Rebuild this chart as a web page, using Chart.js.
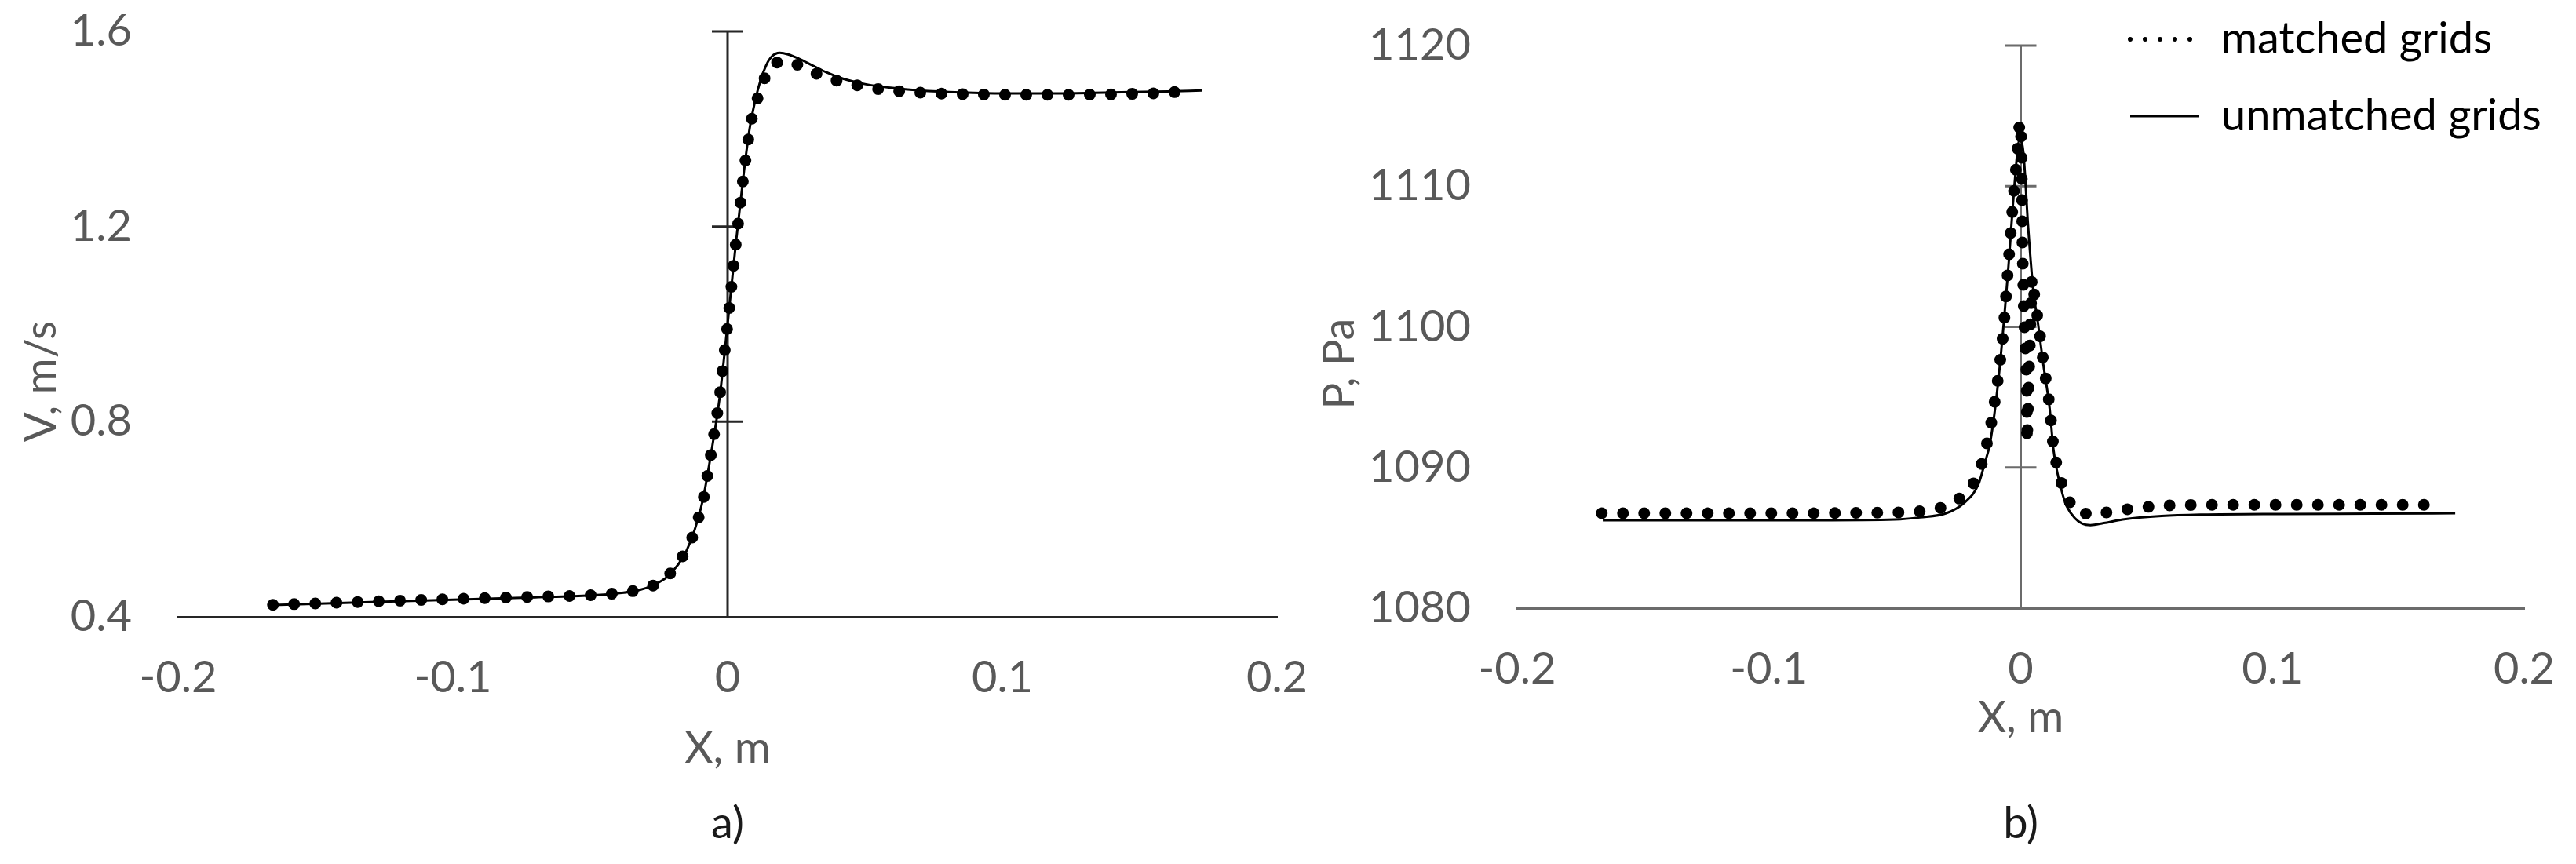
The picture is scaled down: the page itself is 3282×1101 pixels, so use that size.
<!DOCTYPE html>
<html>
<head>
<meta charset="utf-8">
<title>V and P along X</title>
<script src="https://cdn.jsdelivr.net/npm/chart.js@4.4.1/dist/chart.umd.min.js"></script>
<style>
  html, body { margin: 0; padding: 0; background: #fff; }
  #wrap { position: relative; width: 3282px; height: 1101px; overflow: hidden; background: #fff; }
  #chartA { position: absolute; left: 0; top: 0; }
  #chartB { position: absolute; left: 1650px; top: 0; }
</style>
</head>
<body>
<div id="wrap">
  <canvas id="chartA" width="1700" height="1101"></canvas>
  <canvas id="chartB" width="1632" height="1101"></canvas>
</div>
<script>
// --- DATA ---
const xTicks = [-0.2, -0.1, 0, 0.1, 0.2];
const vTicks = [0.4, 0.8, 1.2, 1.6];
const pTicks = [1080, 1090, 1100, 1110, 1120];

// a) velocity, matched grids
const aMatchedX = [-0.1655, -0.109, -0.0768, -0.0528, -0.0447, -0.0367, -0.0287, -0.022, -0.0171, -0.0132,
  -0.0107, -0.0087, -0.006, -0.003, 0, 0.003, 0.006, 0.0083, 0.0104, 0.013, 0.0163, 0.020, 0.0242,
  0.0315, 0.0391, 0.0468, 0.0547, 0.065, 0.08, 0.1, 0.12, 0.14, 0.155, 0.167];
const aMatchedV = [0.4246, 0.435, 0.440, 0.4434, 0.446, 0.450, 0.459, 0.481, 0.516, 0.557,
  0.600, 0.644, 0.735, 0.845, 1.0, 1.165, 1.315, 1.41, 1.454, 1.499, 1.533, 1.540, 1.535,
  1.515, 1.500, 1.490, 1.482, 1.476, 1.472, 1.470, 1.470, 1.471, 1.473, 1.477];

// a) velocity, unmatched grids
const aUnmatchedX = [-0.1655, -0.13, -0.1, -0.07, -0.05, -0.04, -0.032, -0.027, -0.022, -0.018, -0.015,
  -0.012, -0.009, -0.006, -0.003, 0, 0.003, 0.006, 0.008, 0.010, 0.012, 0.014, 0.016, 0.019, 0.022,
  0.026, 0.031, 0.036, 0.042, 0.05, 0.06, 0.07, 0.085, 0.1, 0.12, 0.14, 0.16, 0.1726];
const aUnmatchedV = [0.424, 0.430, 0.435, 0.440, 0.444, 0.448, 0.455, 0.465, 0.482, 0.507, 0.535,
  0.578, 0.640, 0.735, 0.845, 1.0, 1.165, 1.315, 1.400, 1.457, 1.500, 1.530, 1.548, 1.556, 1.553,
  1.544, 1.530, 1.516, 1.503, 1.492, 1.484, 1.479, 1.475, 1.473, 1.473, 1.475, 1.477, 1.479];

// b) pressure, matched grids
const bMatchedX = [-0.1664, -0.12, -0.08, -0.05, -0.0383, -0.030, -0.0224, -0.0178, -0.0146, -0.0112,
  -0.0087, -0.0069, -0.005, -0.0031, -0.0016, -0.0004, 0.0003, 0.0007, 0.0013, 0.0024, 0.0025,
  0.0044, 0.0069, 0.009, 0.0115, 0.013, 0.0146, 0.0168, 0.021, 0.028, 0.037, 0.045, 0.056, 0.07,
  0.1, 0.13, 0.165];
const bMatchedP = [1086.75, 1086.75, 1086.75, 1086.8, 1086.9, 1087.2, 1088.0, 1089.1, 1090.7, 1093.6,
  1096.7, 1099.6, 1104.2, 1108.8, 1111.8, 1114.6, 1113.2, 1105.5, 1100.9, 1096.3, 1091.8,
  1103.5, 1100.4, 1097.5, 1094.4, 1091.4, 1089.9, 1088.5, 1087.0, 1086.6, 1086.9, 1087.1, 1087.3, 1087.35,
  1087.35, 1087.35, 1087.35];

// b) pressure, unmatched grids
const bUnmatchedX = [-0.166, -0.12, -0.08, -0.05, -0.04, -0.0296, -0.0224, -0.0168, -0.0143, -0.0121,
  -0.0087, -0.005, -0.0025, -0.0005, 0.001, 0.003, 0.005, 0.0069, 0.009, 0.0115, 0.013, 0.0146,
  0.0168, 0.0184, 0.0215, 0.0245, 0.0277, 0.033, 0.0405, 0.056, 0.072, 0.104, 0.14, 0.1726];
const bUnmatchedP = [1086.25, 1086.25, 1086.25, 1086.3, 1086.45, 1086.75, 1087.5, 1088.8, 1090.3, 1091.8,
  1096.5, 1104, 1110, 1113.3, 1112.5, 1107, 1102.6, 1100.2, 1097.3, 1094.2, 1091.3, 1089.6,
  1088.0, 1087.2, 1086.4, 1086.0, 1085.9, 1086.05, 1086.3, 1086.55, 1086.65, 1086.7, 1086.72, 1086.75];

// --- HELPERS ---
const pairs = (xs, ys) => xs.map((x, i) => ({ x: x, y: ys[i] }));

const FONT = "Lato, 'Open Sans', sans-serif";
const TEXT_GREY = '#595959';
Chart.defaults.font.family = FONT;
Chart.defaults.font.size = 56;
Chart.defaults.color = TEXT_GREY;

// vertical axis through x = 0 with cross ticks (Excel style)
const crossAxis = {
  id: 'crossAxis',
  beforeDatasetsDraw(chart, args, opts) {
    const { ctx, scales: { x, y } } = chart;
    const x0 = x.getPixelForValue(0);
    ctx.save();
    ctx.strokeStyle = opts.color;
    ctx.lineWidth = opts.width;
    ctx.beginPath();
    ctx.moveTo(x0, y.getPixelForValue(y.max));
    ctx.lineTo(x0, y.getPixelForValue(y.min));
    y.ticks.forEach(t => {
      if (t.value === y.min) return;
      const py = y.getPixelForValue(t.value);
      ctx.moveTo(x0 - opts.tick, py);
      ctx.lineTo(x0 + opts.tick, py);
    });
    ctx.stroke();
    ctx.restore();
  }
};

// y axis title, sitting a little below the middle of the axis like in Excel
const yTitle = {
  id: 'yTitle',
  afterDraw(chart, args, opts) {
    const { ctx, scales: { y } } = chart;
    ctx.save();
    ctx.translate(opts.x, (y.top + y.bottom) / 2 + opts.shift);
    ctx.rotate(-Math.PI / 2);
    ctx.font = '56px ' + FONT;
    ctx.fillStyle = TEXT_GREY;
    ctx.textAlign = 'center';
    ctx.textBaseline = 'middle';
    ctx.fillText(opts.text, 0, 0);
    ctx.restore();
  }
};

// put the legend in the top right corner, over the plot
const legendSpot = {
  id: 'legendSpot',
  afterLayout(chart, args, opts) {
    const lg = chart.legend;
    lg.left = opts.left;
    lg.top = opts.top;
    lg.right = chart.width;
    lg.bottom = opts.top + 400;
  }
};

const legendLines = [
  { width: 6, dash: [0, 19], cap: 'round' },
  { width: 3, dash: [], cap: 'butt' }
];

// invisible tick marks: they only push the labels away from the axis
const hiddenTicks = len => ({
  display: true, drawOnChartArea: false, drawTicks: true,
  tickLength: len, tickColor: 'rgba(0,0,0,0)'
});

function makeChart(id, cfg) {
  return new Chart(document.getElementById(id), {
    type: 'line',
    data: {
      datasets: [
        {
          label: 'matched grids',
          data: cfg.matched,
          borderColor: '#000',
          borderWidth: 15,
          borderDash: [0, 27],
          borderCapStyle: 'round',
          borderJoinStyle: 'round',
          pointRadius: 0,
          tension: 0,
          fill: false
        },
        {
          label: 'unmatched grids',
          data: cfg.unmatched,
          borderColor: '#000',
          borderWidth: 3,
          pointRadius: 0,
          cubicInterpolationMode: 'monotone',
          fill: false
        }
      ]
    },
    options: {
      responsive: false,
      animation: false,
      events: [],
      layout: { autoPadding: false, padding: { top: cfg.top, right: cfg.right, left: 0, bottom: 0 } },
      scales: {
        x: {
          type: 'linear',
          min: -0.2, max: 0.2,
          afterBuildTicks: s => { s.ticks = xTicks.map(v => ({ value: v })); },
          afterFit: s => { s.height = cfg.xAxisHeight; },
          ticks: { padding: 0, maxRotation: 0, autoSkip: false, callback: v => String(v) },
          grid: hiddenTicks(44),
          border: { display: true, color: cfg.axisColor, width: 3 },
          title: { display: true, text: 'X, m', padding: { top: 0, bottom: cfg.xTitlePad } }
        },
        y: {
          type: 'linear',
          min: cfg.yTicks[0], max: cfg.yTicks[cfg.yTicks.length - 1],
          afterBuildTicks: s => { s.ticks = cfg.yTicks.map(v => ({ value: v })); },
          afterFit: s => { s.width = cfg.yAxisWidth; },
          ticks: { padding: 0, callback: v => String(v) },
          grid: hiddenTicks(59),
          border: { display: false },
          title: { display: false }
        }
      },
      plugins: {
        tooltip: { enabled: false },
        crossAxis: { color: cfg.axisColor, width: 3, tick: 20 },
        yTitle: cfg.yTitle,
        legendSpot: { left: 1022, top: -20 },
        title: {
          display: true, text: cfg.caption, position: 'bottom', fullSize: false,
          color: '#1a1a1a', font: { size: 56, weight: 'normal' },
          padding: { top: 10, bottom: 17 }
        },
        legend: {
          display: cfg.legend,
          position: 'chartArea',
          fullSize: false,
          align: 'start',
          labels: {
            usePointStyle: true,
            pointStyleWidth: 88,
            padding: 42,
            color: TEXT_GREY,
            font: { size: 56 },
            generateLabels: chart => chart.data.datasets.map((ds, i) => ({
              text: ds.label,
              datasetIndex: i,
              pointStyle: 'line',
              strokeStyle: '#000',
              fillStyle: '#000',
              lineWidth: legendLines[i].width,
              lineDash: legendLines[i].dash,
              lineCap: legendLines[i].cap
            }))
          }
        }
      }
    },
    plugins: cfg.legend ? [crossAxis, yTitle, legendSpot] : [crossAxis, yTitle]
  });
}

// a) V
makeChart('chartA', {
  matched: pairs(aMatchedX, aMatchedV),
  unmatched: pairs(aUnmatchedX, aUnmatchedV),
  yTicks: vTicks,
  yTitle: { text: 'V, m/s', x: 53, shift: 73 },
  caption: 'a)',
  top: 40, right: 73,
  yAxisWidth: 227, xAxisHeight: 220.8,
  xTitlePad: 19,
  axisColor: '#262626',
  legend: false
});

// b) P
makeChart('chartB', {
  matched: pairs(bMatchedX, bMatchedP),
  unmatched: pairs(bUnmatchedX, bUnmatchedP),
  yTicks: pTicks,
  yTitle: { text: 'P, Pa', x: 57, shift: 47 },
  caption: 'b)',
  top: 58, right: 66,
  yAxisWidth: 283, xAxisHeight: 231.8,
  xTitlePad: 58,
  axisColor: '#6b6b6b',
  legend: true
});
</script>
</body>
</html>
